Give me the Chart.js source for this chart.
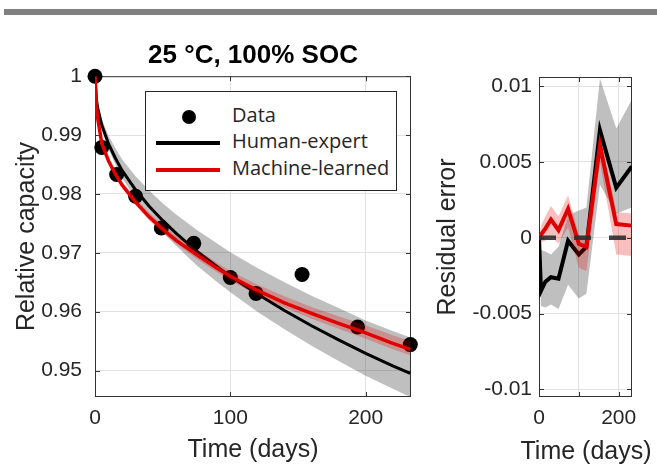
<!DOCTYPE html>
<html>
<head>
<meta charset="utf-8">
<script src="https://cdn.jsdelivr.net/npm/chart.js@4/dist/chart.umd.min.js"></script>
<style>
  html, body { margin: 0; padding: 0; background: #fff; }
  #wrap { position: relative; width: 657px; height: 465px; overflow: hidden; }
  #topbar { position: absolute; left: 4px; top: 9px; width: 653px; height: 6px; background: #808080; }
  #left { position: absolute; left: 0; top: 30px; }
  #right { position: absolute; left: 420px; top: 30px; }
  #resTitle { position: absolute; left: 486px; top: 435px; width: 200px; text-align: center;
              font-family: 'Liberation Sans', Arial, sans-serif; font-size: 25px; line-height: 30px; color: #262626; }
  #legend { position: absolute; left: 145px; top: 91px; width: 250px; height: 98px;
            border: 1px solid #262626; background: #fff;
            font-family: 'Open Sans', sans-serif; font-size: 20px; color: #262626; }
  #legend .lbl { position: absolute; left: 86px; line-height: 26px; white-space: nowrap; }
  #legend .dot { position: absolute; left: 36px; top: 18px; width: 14px; height: 14px; border-radius: 50%; background: #000; }
  #legend .seg { position: absolute; left: 10px; width: 64px; height: 4px; }
</style>
</head>
<body>
<div id="wrap">
  <div id="topbar"></div>
  <canvas id="left" width="420" height="435"></canvas>
  <canvas id="right" width="237" height="435"></canvas>
  <div id="resTitle">Time (days)</div>
  <div id="legend">
    <span class="dot"></span>
    <span class="seg" style="top:49px;background:#000"></span>
    <span class="seg" style="top:76px;background:#e00000"></span>
    <span class="lbl" id="lbl0" style="top:10px"></span>
    <span class="lbl" id="lbl1" style="top:36px"></span>
    <span class="lbl" id="lbl2" style="top:63px"></span>
  </div>
</div>
<script>
// valores
const seriesNames = ['Data', 'Human-expert', 'Machine-learned'];

// medições
const days = [0, 5, 16, 30, 49, 73, 100, 119, 153, 194, 233];
const capacity = [1.0, 0.9879, 0.9833, 0.9796, 0.9742, 0.9716, 0.9658, 0.9631, 0.9663, 0.9574, 0.9544];

// curvas ajustadas
const fitDays = [0, 1, 2, 5, 10, 15, 20, 30, 40, 50, 60, 75, 90, 100, 120, 140, 160, 180, 200, 220, 233];
const humanFit   = [1.0, 0.9961, 0.9946, 0.9917, 0.9885, 0.9861, 0.9840, 0.9807, 0.9779, 0.9755, 0.9733, 0.9703, 0.9677, 0.9660, 0.9630, 0.9602, 0.9576, 0.9552, 0.9529, 0.9508, 0.9495];
const humanUpper = [1.0, 0.9966, 0.9952, 0.9927, 0.9899, 0.9878, 0.9859, 0.9830, 0.9806, 0.9784, 0.9765, 0.9739, 0.9716, 0.9701, 0.9674, 0.9650, 0.9627, 0.9606, 0.9585, 0.9567, 0.9556];
const humanLower = [1.0, 0.9958, 0.9942, 0.9910, 0.9876, 0.9850, 0.9827, 0.9792, 0.9761, 0.9735, 0.9712, 0.9679, 0.9651, 0.9633, 0.9600, 0.9570, 0.9542, 0.9516, 0.9491, 0.9469, 0.9455];
const mlFit   = [1.0, 0.9950, 0.9928, 0.9886, 0.9856, 0.9834, 0.9815, 0.9786, 0.9761, 0.9740, 0.9721, 0.9697, 0.9674, 0.9660, 0.9636, 0.9615, 0.9597, 0.9580, 0.9564, 0.9546, 0.9536];
const mlUpper = [1.0, 0.9952, 0.9931, 0.9890, 0.9861, 0.9840, 0.9821, 0.9793, 0.9768, 0.9748, 0.9729, 0.9706, 0.9683, 0.9669, 0.9646, 0.9626, 0.9608, 0.9592, 0.9577, 0.9560, 0.9550];
const mlLower = [1.0, 0.9948, 0.9926, 0.9883, 0.9852, 0.9830, 0.9810, 0.9781, 0.9755, 0.9734, 0.9715, 0.9690, 0.9667, 0.9653, 0.9628, 0.9607, 0.9588, 0.9571, 0.9554, 0.9536, 0.9526];

// residuos
const humanRes      = [0, -0.0035, -0.0029, -0.0026, -0.0027, -0.0002, -0.0011, -0.0006, 0.0071, 0.0033, 0.0047];
const humanResUpper = [0, -0.0008, -0.0009, -0.0011, -0.0006, 0.0015, 0.0018, 0.0020, 0.0105, 0.0072, 0.0091];
const humanResLower = [0, -0.0045, -0.0046, -0.0044, -0.0047, -0.0031, -0.0040, -0.0037, 0.0035, 0.0016, 0.0020];
const mlRes      = [0, 0.0002, 0.0006, 0.0012, 0.0005, 0.0019, -0.0004, -0.0006, 0.0061, 0.0009, 0.0008];
const mlResUpper = [0, 0.0008, 0.0014, 0.0021, 0.0014, 0.0028, 0.0002, 0.0001, 0.0068, 0.0017, 0.0016];
const mlResLower = [0, -0.0003, -0.0002, 0.0001, -0.0004, 0.0007, -0.0020, -0.0022, 0.0050, -0.0011, -0.0012];
const zeroDays = [0, 233.5];
const zeroLine = [0, 0];

// eixos
const dayTicks = [0, 100, 200];
const dayTickLabels = ['0', '100', '200'];
const resDayTickLabels = ['0', '', '200'];
const capTicks = [0.95, 0.96, 0.97, 0.98, 0.99, 1];
const capTickLabels = ['0.95', '0.96', '0.97', '0.98', '0.99', '1'];
const resTicks = [-0.01, -0.005, 0, 0.005, 0.01];
const resTickLabels = ['-0.01', '-0.005', '0', '0.005', '0.01'];

Chart.defaults.font.family = "'Liberation Sans', Arial, sans-serif";
Chart.defaults.color = '#262626';

const pts = (xs, ys) => xs.map((x, i) => ({x: x, y: ys[i]}));

const RED = '#e00000';
const RED_BAND = 'rgba(230, 0, 0, 0.25)';
const GRAY_BAND = 'rgba(0, 0, 0, 0.25)';
const GRID = '#e2e2e2';
const tickFont = {size: 21};
const titleFont = {size: 25};

// moldura estilo MATLAB com ticks para dentro
const frameBox = {
    id: 'frameBox',
    beforeDatasetsDraw(chart) {
        const {ctx, chartArea: a, scales} = chart;
        ctx.save();
        ctx.strokeStyle = '#333';
        ctx.lineWidth = 1;
        ctx.strokeRect(a.left + 0.5, a.top + 0.5, a.width - 1, a.height - 1);
        ctx.beginPath();
        scales.x.ticks.forEach(t => {
            const p = Math.round(scales.x.getPixelForValue(t.value)) + 0.5;
            ctx.moveTo(p, a.bottom); ctx.lineTo(p, a.bottom - 5);
            ctx.moveTo(p, a.top); ctx.lineTo(p, a.top + 5);
        });
        scales.y.ticks.forEach(t => {
            const p = Math.round(scales.y.getPixelForValue(t.value)) + 0.5;
            ctx.moveTo(a.left, p); ctx.lineTo(a.left + 5, p);
            ctx.moveTo(a.right, p); ctx.lineTo(a.right - 5, p);
        });
        ctx.stroke();
        ctx.restore();
    }
};

function band(xs, ys, fill) {
    return {data: pts(xs, ys), borderWidth: 0, pointRadius: 0, backgroundColor: fill, fill: fill ? '+1' : false};
}

function xAxis(labels, title) {
    return {
        type: 'linear', min: 0, max: 233.5,
        afterBuildTicks: s => { s.ticks = dayTicks.map(v => ({value: v})); },
        afterFit: s => { s.height = 68; },
        grid: {color: GRID, drawTicks: false},
        border: {display: false},
        ticks: {padding: 9, font: tickFont, maxRotation: 0, autoSkip: false,
                callback: (v, i) => labels[i]},
        title: {display: !!title, text: title, font: titleFont, padding: {top: 0, bottom: 0}}
    };
}

function yAxis(min, max, ticks, labels, title, width, pad, titlePad) {
    return {
        type: 'linear', min: min, max: max,
        afterBuildTicks: s => { s.ticks = ticks.map(v => ({value: v})); },
        afterFit: s => { s.width = width; },
        grid: {color: GRID, drawTicks: false},
        border: {display: false},
        ticks: {padding: pad, font: tickFont, autoSkip: false,
                callback: (v, i) => labels[i]},
        title: {display: true, text: title, font: titleFont, padding: {top: titlePad, bottom: 0}}
    };
}

// grafico principal
new Chart(document.getElementById('left'), {
    type: 'line',
    data: {
        datasets: [
            {label: seriesNames[2], data: pts(fitDays, mlFit), borderColor: RED, borderWidth: 3.5, pointRadius: 0},
            band(fitDays, mlUpper, RED_BAND),
            band(fitDays, mlLower, null),
            {label: seriesNames[1], data: pts(fitDays, humanFit), borderColor: '#000', borderWidth: 3, pointRadius: 0},
            band(fitDays, humanUpper, GRAY_BAND),
            band(fitDays, humanLower, null),
            {label: seriesNames[0], data: pts(days, capacity), showLine: false, pointRadius: 7.5,
             pointBackgroundColor: '#000', pointBorderColor: '#000', pointBorderWidth: 0, clip: false}
        ]
    },
    options: {
        responsive: false,
        animation: false,
        events: [],
        layout: {autoPadding: false, padding: {top: 0, right: 9, bottom: 0, left: 0}},
        plugins: {
            legend: {display: false},
            tooltip: {enabled: false},
            title: {display: true, fullSize: false, text: '25 °C, 100% SOC', color: '#000',
                    font: {size: 26, weight: 'bold'}, padding: {top: 10, bottom: 5}}
        },
        scales: {
            x: xAxis(dayTickLabels, 'Time (days)'),
            y: yAxis(0.9455, 1.0, capTicks, capTickLabels, 'Relative capacity', 95, 13, 12)
        }
    },
    plugins: [frameBox]
});

// residuos (titulo do eixo x fica no html porque passa da largura do eixo)
new Chart(document.getElementById('right'), {
    type: 'line',
    data: {
        datasets: [
            {data: pts(zeroDays, zeroLine), borderColor: 'rgba(45,45,45,0.9)', borderWidth: 4.5,
             borderDash: [17, 18], borderCapStyle: 'butt', pointRadius: 0},
            {data: pts(days, mlRes), borderColor: RED, borderWidth: 4, pointRadius: 0},
            band(days, mlResUpper, RED_BAND),
            band(days, mlResLower, null),
            {data: pts(days, humanRes), borderColor: '#000', borderWidth: 4, pointRadius: 0},
            band(days, humanResUpper, GRAY_BAND),
            band(days, humanResLower, null)
        ]
    },
    options: {
        responsive: false,
        animation: false,
        events: [],
        layout: {autoPadding: false, padding: {top: 47, right: 25, bottom: 0, left: 0}},
        plugins: {legend: {display: false}, tooltip: {enabled: false}},
        scales: {
            x: xAxis(resDayTickLabels, ''),
            y: yAxis(-0.0105, 0.0106, resTicks, resTickLabels, 'Residual error', 119, 7, 13)
        }
    },
    plugins: [frameBox]
});

// legenda
seriesNames.forEach((n, i) => { document.getElementById('lbl' + i).textContent = n; });
</script>
</body>
</html>
